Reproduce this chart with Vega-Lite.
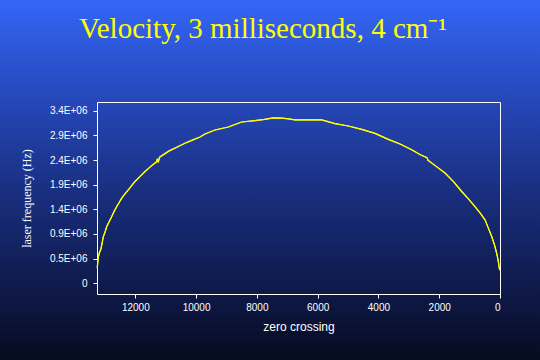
{
  "$schema": "https://vega.github.io/schema/vega-lite/v6.json",
  "width": 540,
  "height": 360,
  "autosize": {"type": "none"},
  "padding": 0,
  "background": "#16287a",
  "view": {
    "stroke": null,
    "fill": {
      "gradient": "linear", "x1": 0, "y1": 0, "x2": 0, "y2": 1,
      "stops": [
        {"offset": 0, "color": "#3466f6"},
        {"offset": 0.3, "color": "#2445b4"},
        {"offset": 0.55, "color": "#182d7c"},
        {"offset": 0.8, "color": "#0f1a4a"},
        {"offset": 1, "color": "#060b20"}
      ]
    }
  },
  "title": {
    "text": "Velocity, 3 milliseconds, 4 cm⁻¹",
    "font": "Liberation Serif",
    "fontSize": 29,
    "fontWeight": "normal",
    "color": "#ffff00",
    "anchor": "middle",
    "frame": "group",
    "baseline": "alphabetic",
    "offset": -67,
    "dx": -7
  },
  "data": {
    "values": [
      {"zero_crossing": 13250, "frequency_hz": 300000},
      {"zero_crossing": 13235, "frequency_hz": 420000},
      {"zero_crossing": 13215, "frequency_hz": 520000},
      {"zero_crossing": 13180, "frequency_hz": 600000},
      {"zero_crossing": 13127, "frequency_hz": 680000},
      {"zero_crossing": 13090, "frequency_hz": 800000},
      {"zero_crossing": 13051, "frequency_hz": 919000},
      {"zero_crossing": 12990, "frequency_hz": 1020000},
      {"zero_crossing": 12939, "frequency_hz": 1116000},
      {"zero_crossing": 12860, "frequency_hz": 1210000},
      {"zero_crossing": 12775, "frequency_hz": 1313000},
      {"zero_crossing": 12700, "frequency_hz": 1410000},
      {"zero_crossing": 12610, "frequency_hz": 1510000},
      {"zero_crossing": 12530, "frequency_hz": 1590000},
      {"zero_crossing": 12446, "frequency_hz": 1676000},
      {"zero_crossing": 12340, "frequency_hz": 1760000},
      {"zero_crossing": 12229, "frequency_hz": 1839000},
      {"zero_crossing": 12120, "frequency_hz": 1920000},
      {"zero_crossing": 12008, "frequency_hz": 2003000},
      {"zero_crossing": 11850, "frequency_hz": 2100000},
      {"zero_crossing": 11680, "frequency_hz": 2200000},
      {"zero_crossing": 11490, "frequency_hz": 2300000},
      {"zero_crossing": 11300, "frequency_hz": 2390000},
      {"zero_crossing": 11270, "frequency_hz": 2450000},
      {"zero_crossing": 11245, "frequency_hz": 2380000},
      {"zero_crossing": 11200, "frequency_hz": 2480000},
      {"zero_crossing": 10900, "frequency_hz": 2600000},
      {"zero_crossing": 10584, "frequency_hz": 2693000},
      {"zero_crossing": 10350, "frequency_hz": 2760000},
      {"zero_crossing": 10143, "frequency_hz": 2811000},
      {"zero_crossing": 9870, "frequency_hz": 2878000},
      {"zero_crossing": 9706, "frequency_hz": 2938000},
      {"zero_crossing": 9377, "frequency_hz": 3016000},
      {"zero_crossing": 8939, "frequency_hz": 3075000},
      {"zero_crossing": 8700, "frequency_hz": 3130000},
      {"zero_crossing": 8498, "frequency_hz": 3174000},
      {"zero_crossing": 8061, "frequency_hz": 3200000},
      {"zero_crossing": 7750, "frequency_hz": 3225000},
      {"zero_crossing": 7458, "frequency_hz": 3253000},
      {"zero_crossing": 7200, "frequency_hz": 3250000},
      {"zero_crossing": 7018, "frequency_hz": 3239000},
      {"zero_crossing": 6745, "frequency_hz": 3214000},
      {"zero_crossing": 6300, "frequency_hz": 3214000},
      {"zero_crossing": 5866, "frequency_hz": 3214000},
      {"zero_crossing": 5429, "frequency_hz": 3141000},
      {"zero_crossing": 4991, "frequency_hz": 3095000},
      {"zero_crossing": 4550, "frequency_hz": 3028000},
      {"zero_crossing": 4113, "frequency_hz": 2949000},
      {"zero_crossing": 3675, "frequency_hz": 2831000},
      {"zero_crossing": 3290, "frequency_hz": 2740000},
      {"zero_crossing": 2905, "frequency_hz": 2628000},
      {"zero_crossing": 2620, "frequency_hz": 2530000},
      {"zero_crossing": 2400, "frequency_hz": 2470000},
      {"zero_crossing": 2370, "frequency_hz": 2420000},
      {"zero_crossing": 2359, "frequency_hz": 2417000},
      {"zero_crossing": 2100, "frequency_hz": 2300000},
      {"zero_crossing": 1810, "frequency_hz": 2169000},
      {"zero_crossing": 1530, "frequency_hz": 2000000},
      {"zero_crossing": 1260, "frequency_hz": 1806000},
      {"zero_crossing": 1040, "frequency_hz": 1660000},
      {"zero_crossing": 823, "frequency_hz": 1510000},
      {"zero_crossing": 650, "frequency_hz": 1380000},
      {"zero_crossing": 494, "frequency_hz": 1248000},
      {"zero_crossing": 380, "frequency_hz": 1080000},
      {"zero_crossing": 273, "frequency_hz": 919000},
      {"zero_crossing": 180, "frequency_hz": 750000},
      {"zero_crossing": 109, "frequency_hz": 591000},
      {"zero_crossing": 60, "frequency_hz": 450000},
      {"zero_crossing": 23, "frequency_hz": 296000},
      {"zero_crossing": 10, "frequency_hz": 260000}
    ]
  },
  "layer": [
    {
      "mark": {"type": "line", "color": "#ffff00", "strokeWidth": 1.2},
      "encoding": {
        "x": {
          "field": "zero_crossing", "type": "quantitative",
          "scale": {"domain": [0, 13260], "range": [500, 97], "nice": false, "zero": false},
          "axis": {
            "orient": "bottom", "offset": -66,
            "values": [0, 2000, 4000, 6000, 8000, 10000, 12000],
            "format": "d", "grid": false,
            "domainColor": "#ffffff", "domainWidth": 1,
            "tickColor": "#ffffff", "tickSize": 4,
            "labelColor": "#ffffff", "labelFont": "Liberation Sans", "labelFontSize": 10, "labelPadding": 4,
            "title": "zero crossing", "titleColor": "#ffffff", "titleFont": "Liberation Sans",
            "titleFontSize": 12, "titleFontWeight": "normal", "titlePadding": 9
          }
        },
        "y": {
          "field": "frequency_hz", "type": "quantitative",
          "scale": {"domain": [-211000, 3567000], "range": [294, 102], "nice": false, "zero": false},
          "axis": {
            "orient": "left", "offset": -97,
            "values": [0, 485000, 970000, 1455000, 1940000, 2425000, 2910000, 3395000],
            "labelExpr": "['0','0.5E+06','0.9E+06','1.4E+06','1.9E+06','2.4E+06','2.9E+06','3.4E+06'][round(datum.value/485000)]",
            "grid": false,
            "domainColor": "#ffffff", "domainWidth": 1,
            "tickColor": "#ffffff", "tickSize": 4,
            "labelColor": "#ffffff", "labelFont": "Liberation Sans", "labelFontSize": 10, "labelPadding": 6,
            "title": "laser frequency (Hz)", "titleColor": "#ffffff", "titleFont": "Liberation Serif",
            "titleFontSize": 12, "titleFontWeight": "normal", "titlePadding": 16
          }
        }
      }
    },
    {
      "mark": {"type": "line", "color": "#ffff00", "strokeWidth": 1.2},
      "encoding": {
        "x": {
          "field": "zero_crossing", "type": "quantitative",
          "axis": {
            "orient": "top", "offset": -102, "labels": false, "ticks": false, "grid": false,
            "domainColor": "#ffffff", "domainWidth": 1, "title": null
          }
        },
        "y": {
          "field": "frequency_hz", "type": "quantitative",
          "axis": {
            "orient": "right", "offset": -40, "labels": false, "ticks": false, "grid": false,
            "domainColor": "#ffffff", "domainWidth": 1, "title": null
          }
        }
      }
    }
  ],
  "resolve": {"axis": {"x": "independent", "y": "independent"}}
}
